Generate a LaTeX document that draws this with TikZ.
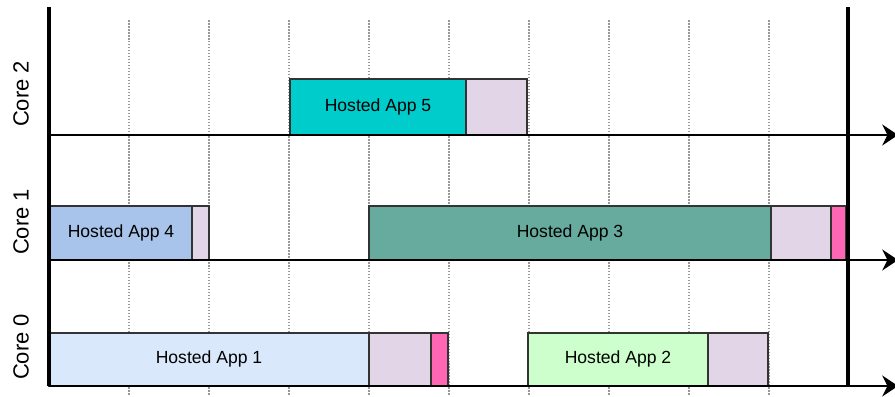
\documentclass[tikz,border=0pt]{standalone}
\usepackage{fontspec}
\setmainfont{Liberation Sans}
\usetikzlibrary{arrows.meta}

\definecolor{boxline}{HTML}{333333}
\definecolor{appone}{HTML}{DAE8FC}
\definecolor{apptwo}{HTML}{CCFFCC}
\definecolor{appthree}{HTML}{67AB9F}
\definecolor{appfour}{HTML}{A9C4EB}
\definecolor{appfive}{HTML}{00CCCC}
\definecolor{overhead}{HTML}{E1D5E7}
\definecolor{switch}{HTML}{FF66B3}

\begin{document}
\begin{tikzpicture}[x=0.02cm, y=-0.02cm,
    slot/.style={draw=boxline, line width=0.6pt},
    gridline/.style={gray!80, line width=0.9pt, dash pattern=on 0.9pt off 0.8pt},
    axis/.style={line width=1.1pt, -{Stealth[length=9pt, width=12pt, inset=3pt]}},
    frame/.style={line width=2.3pt},
    applabel/.style={font=\fontsize{10}{12}\selectfont},
    corelabel/.style={font=\fontsize{12.5}{14}\selectfont, rotate=90}]
    \useasboundingbox (0,0) rectangle (895,396);

    % time grid
    \foreach \x in {129,209,...,769}
        \draw[gridline] (\x,20) -- (\x,396);

    % core 2
    \filldraw[slot, fill=appfive] (290,79) rectangle (466,135);
    \filldraw[slot, fill=overhead] (466,79) rectangle (527,135);
    \node[applabel] (app5) at (378,107) {Hosted App 5};

    % core 1
    \filldraw[slot, fill=appfour] (49,206) rectangle (192,260);
    \filldraw[slot, fill=overhead] (192,206) rectangle (209,260);
    \filldraw[slot, fill=appthree] (369,206) rectangle (771,260);
    \filldraw[slot, fill=overhead] (771,206) rectangle (831,260);
    \filldraw[slot, fill=switch] (831,206) rectangle (846,260);
    \node[applabel] (app4) at (121,233) {Hosted App 4};
    \node[applabel] (app3) at (570,233) {Hosted App 3};

    % core 0
    \filldraw[slot, fill=appone] (49,333) rectangle (369,386);
    \filldraw[slot, fill=overhead] (369,333) rectangle (431,386);
    \filldraw[slot, fill=switch] (431,333) rectangle (448,386);
    \filldraw[slot, fill=apptwo] (528,333) rectangle (708,386);
    \filldraw[slot, fill=overhead] (708,333) rectangle (768,386);
    \node[applabel] (app1) at (209,359) {Hosted App 1};
    \node[applabel] (app2) at (618,359) {Hosted App 2};

    % time axes
    \coordinate (c2s) at (49,135);
    \coordinate (c2e) at (898,135);
    \coordinate (c1s) at (49,260);
    \coordinate (c1e) at (898,260);
    \coordinate (c0s) at (49,386);
    \coordinate (c0e) at (898,386);
    \draw[axis] (c2s) -- (c2e);
    \draw[axis] (c1s) -- (c1e);
    \draw[axis] (c0s) -- (c0e);

    % frame start and end
    \coordinate (fst) at (49,7);
    \coordinate (fsb) at (49,386);
    \coordinate (fet) at (848,7);
    \coordinate (feb) at (848,386);
    \draw[frame] (fst) -- (fsb);
    \draw[frame] (fet) -- (feb);

    \node[corelabel] (core2) at (21,94) {Core 2};
    \node[corelabel] (core1) at (21,222) {Core 1};
    \node[corelabel] (core0) at (21,347) {Core 0};
\end{tikzpicture}
\end{document}
